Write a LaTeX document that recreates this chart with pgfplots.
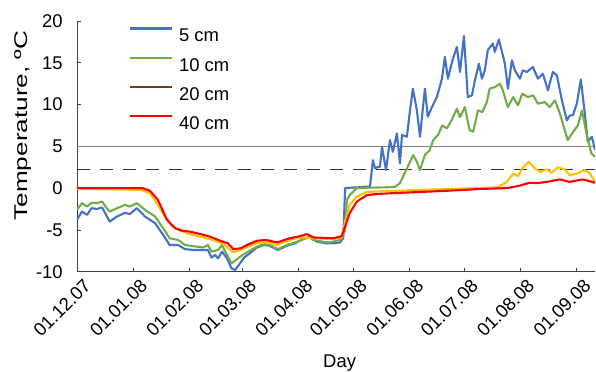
\documentclass[border=0pt]{standalone}
\usepackage{fontspec}
\setmainfont{Liberation Sans}
\usepackage{graphicx}
\usepackage{pgfplots}
\pgfplotsset{compat=1.18}
\definecolor{cblue}{RGB}{68,114,196}
\definecolor{cgreen}{RGB}{112,173,71}
\definecolor{cbrown}{RGB}{96,70,22}
\definecolor{cyellow}{RGB}{255,192,0}
\definecolor{cred}{RGB}{255,0,0}
\begin{document}
\fontsize{18.5}{22}\selectfont
\begin{tikzpicture}
\begin{axis}[
  scale only axis, width=518bp, height=250.7bp,
  xmin=0, xmax=285, ymin=-10, ymax=20,
  axis x line*=bottom, axis y line*=left,
  axis line style={black!75, line width=0.8bp},
  xtick={0,31,62,91,122,152,183,213,244,275},
  xticklabels={01.12.07,01.01.08,01.02.08,01.03.08,01.04.08,01.05.08,01.06.08,01.07.08,01.08.08,01.09.08},
  ytick={-10,-5,...,20},
  tick align=inside, major tick length=4bp,
  tick style={black!75, line width=0.8bp},
  /pgf/number format/assume math mode=true,
  xticklabel style={rotate=45, anchor=east, inner sep=0pt, yshift=-15bp},
  yticklabel style={xshift=-8bp},
  xlabel={Day},
  xlabel style={at={(rel axis cs:0.507,0)}, anchor=north, yshift=-76.7bp},
  ylabel={\scalebox{1.42}[1]{Temperature, ºC}},
  ylabel style={at={(rel axis cs:-0.104,0.583)}, anchor=center},
  legend style={draw=none, fill=none, at={(rel axis cs:0.099,0.977)}, anchor=north west,
    row sep=13bp, column sep=5bp, inner sep=0pt, nodes={inner sep=1.5bp, text height=13.3bp, text depth=0pt}},
  legend cell align=left,
  legend image code/.code={\draw[#1, line width=2.1bp] (0bp,6.6bp) -- (42bp,6.6bp);},
  every axis plot/.append style={line width=2.1bp, line join=round},
]
\addplot[gray, line width=0.8bp, forget plot] coordinates {(0,5) (285,5)};
\addplot[black!80, line width=0.8bp, dash pattern=on 13bp off 10bp, forget plot] coordinates {(0,2.28) (285,2.28)};
% 5 cm
\addplot[cblue] coordinates {
(0,-3.8) (2.7,-2.8) (5.5,-3.2) (8,-2.4) (11,-2.5) (13.8,-2.3) (16,-3.2) (18,-4.0) (22,-3.4) (26.4,-2.95) (29,-3.1) (33,-2.4) (37.4,-3.4) (43,-4.2) (47.4,-5.6) (51,-6.8) (55.6,-6.8) (59.4,-7.3) (64,-7.4) (69.5,-7.4) (72,-7.4) (74,-8.3) (76,-8.0) (77.6,-8.4) (79.8,-7.6) (82.5,-8.4) (85,-9.6) (87,-9.8) (89.7,-9.0) (92,-8.3) (95,-7.8) (99,-7.1) (103,-6.8) (106,-6.9) (110.6,-7.4) (115.5,-6.9) (120,-6.6) (124,-6.1) (128,-5.9) (132,-6.4) (137,-6.6) (141,-6.6) (144.7,-6.5) (146.5,-6.0) (147.5,0) (150,0.05) (155,0.1) (161.2,0.2) (162.8,3.35) (164,2.36) (165.6,2.55) (166.7,2.55) (167.8,4.95) (170,2.16) (172.2,5.75) (173.8,4.35) (176,6.55) (177.7,2.96) (178.8,6.35) (181.5,6.15) (183.2,9.3) (184.8,11.9) (187,9.3) (188.7,6.15) (191.4,11.9) (193,8.55) (195.3,9.7) (198,10.9) (200.8,13.1) (202.4,15.7) (204.1,13.1) (206.3,15.1) (209,16.9) (210.7,13.9) (212.9,18.2) (215,10.9) (217.3,11.1) (218.9,12.9) (221.1,14.9) (222.8,13.1) (224.4,14.1) (226,16.5) (228.8,17.3) (229.9,16.3) (232.1,17.8) (234.3,15.9) (235.4,14.9) (237.1,11.9) (239.3,15.3) (240.9,14.1) (243.7,13.1) (245.3,14.1) (247.5,13.9) (250.8,14.5) (253.6,13.1) (256.3,13.7) (259.1,11.7) (261.8,13.9) (264,13.5) (266.8,10.5) (269.5,8.1) (271.2,8.7) (272.8,8.7) (275,10.1) (277.2,13.0) (279.4,8.9) (281,5.55) (283.3,6.15) (285,4.55)
};
\addlegendentry{5 cm}
% 10 cm
\addplot[cgreen] coordinates {
(0,-2.6) (2.7,-1.8) (5.5,-2.2) (8,-1.75) (11,-1.8) (13.8,-1.6) (16,-2.3) (18,-2.8) (22,-2.4) (26.4,-2.0) (29,-2.2) (33,-1.8) (37.4,-2.6) (43,-3.4) (47.4,-4.8) (51,-6.0) (55.6,-6.2) (59.4,-6.8) (64,-6.95) (69.5,-7.1) (72,-6.8) (74,-7.6) (77.6,-7.4) (79.8,-6.8) (82.5,-8.0) (85,-9.0) (88,-8.5) (91,-8.0) (95,-7.5) (99,-7.0) (103,-6.7) (106,-6.8) (110.6,-7.3) (115.5,-6.8) (120,-6.5) (122.6,-6.3) (128,-5.8) (130,-6.2) (135,-6.4) (139,-6.5) (144.7,-6.2) (146,-5.8) (147.5,-5.0) (148.5,-1.4) (150,-0.84) (154,0) (160,0.05) (170,0.1) (175,0.15) (177.7,0.6) (181.5,2.36) (185,3.95) (187,3.15) (188.7,2.16) (191.4,3.95) (194,4.55) (196,5.75) (198.6,6.35) (201,7.5) (203.5,7.15) (206,8.1) (209,9.5) (210.7,8.5) (213.4,9.7) (216,6.95) (218,6.75) (220.6,9.3) (223,9.1) (225.5,10.3) (227,11.9) (230,12.1) (232.7,12.5) (234.3,11.7) (237,9.7) (240,10.9) (242.6,9.9) (245,11.3) (248,10.9) (251,11.1) (253.6,10.1) (257.4,10.3) (260,9.7) (263,10.5) (265.7,8.9) (270,5.75) (273,6.75) (275.6,7.5) (277.8,9.3) (280.5,6.35) (283,4.15) (285,3.75)
};
\addlegendentry{10 cm}
% 20 cm (drawn yellow, legend brown as in the original)
\addplot[cyellow, forget plot] coordinates {
(0,-0.1) (35,-0.2) (40,-0.6) (44,-1.8) (48,-3.3) (52,-4.5) (56,-5.0) (62,-5.5) (68,-5.8) (73,-6.1) (80,-6.6) (86,-7.7) (90,-7.4) (94,-7.0) (99,-6.6) (103,-6.5) (106,-6.5) (110,-6.8) (117,-6.2) (122.6,-5.9) (130,-6.0) (141,-6.1) (145.6,-5.9) (147.5,-4.0) (150,-2.0) (154,-1.0) (159.5,-0.45) (170,-0.35) (178,-0.3) (190,-0.2) (205,-0.1) (220,0) (231.6,0.1) (236.5,0.75) (240,1.75) (242.6,1.44) (245,2.36) (248.6,3.15) (252,2.36) (254.7,1.95) (258.5,2.24) (261,1.84) (264.6,2.48) (268.4,2.24) (271,1.56) (275,1.75) (279.4,2.16) (282,1.8) (285,0.75)
};
\addlegendimage{cbrown}
\addlegendentry{20 cm}
% 40 cm
\addplot[cred] coordinates {
(0,0) (36,0) (40,-0.3) (44.5,-1.4) (49.5,-3.8) (54,-4.8) (58,-5.1) (62,-5.2) (68,-5.5) (73,-5.8) (80,-6.4) (83,-6.6) (86,-7.3) (90,-7.2) (93.5,-6.8) (99,-6.3) (104,-6.2) (110,-6.5) (117,-6.0) (122.6,-5.75) (126.5,-5.5) (130,-5.9) (141,-6.0) (145.6,-5.75) (147.5,-4.6) (150,-3.0) (154,-1.6) (159.5,-0.84) (165,-0.7) (177.7,-0.56) (190,-0.45) (205,-0.3) (222,-0.1) (236.5,0) (243.7,0.3) (249,0.65) (253,0.6) (258.5,0.75) (262,0.9) (265.7,1.04) (271,0.75) (278,1.04) (281,0.9) (285,0.64)
};
\addlegendentry{40 cm}
\coordinate (bl) at (rel axis cs:0,0);
\end{axis}
\pgfresetboundingbox
\path[use as bounding box] (bl) ++(-77bp,-100.3bp) rectangle ++(596bp,372bp);
\end{tikzpicture}
\end{document}
